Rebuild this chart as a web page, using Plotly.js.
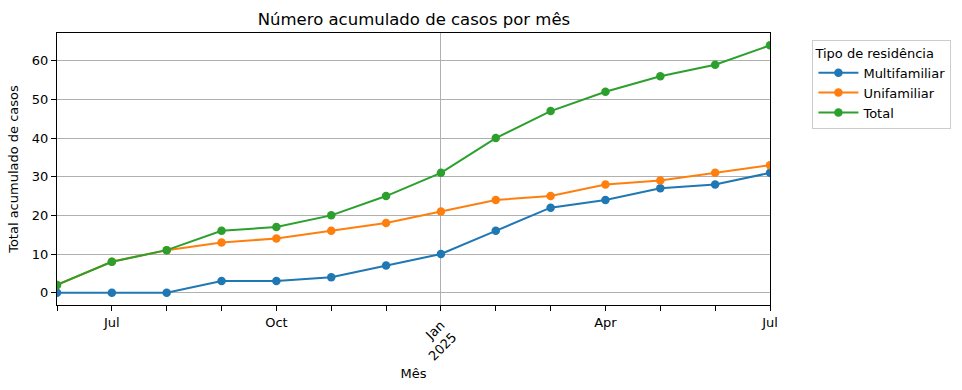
<!DOCTYPE html>
<html>
<head>
<meta charset="utf-8">
<script src="https://cdn.plot.ly/plotly-3.0.1.min.js"></script>
<style>html,body{margin:0;padding:0;background:#fff;}#chart{width:962px;height:390px;}</style>
</head>
<body>
<div id="chart"></div>
<script>
const months = ["2024-06","2024-07","2024-08","2024-09","2024-10","2024-11","2024-12","2025-01","2025-02","2025-03","2025-04","2025-05","2025-06","2025-07"];
const multifamiliar = [0,0,0,3,3,4,7,10,16,22,24,27,28,31];
const unifamiliar = [2,8,11,13,14,16,18,21,24,25,28,29,31,33];
const total = [2,8,11,16,17,20,25,31,40,47,52,56,59,64];
const tickMonths = ["2024-07","2024-10","2025-04","2025-07"];
const tickLabels = ["Jul","Oct","Apr","Jul"];
const yearMonths = ["2025-01"];
const yearLabels = ["Jan<br>2025"];

const xIdx = months.map((m,i)=>i);
const idx = m => months.indexOf(m);
const font = {family: "DejaVu Sans", size: 13, color: "#000"};

function tr(name, y, color){
  return {x: xIdx, y: y, name: name, type: "scatter", mode: "lines+markers",
    line: {color: color, width: 2}, marker: {color: color, size: 8.5}};
}
const data = [
  tr("Multifamiliar", multifamiliar, "#1f77b4"),
  tr("Unifamiliar", unifamiliar, "#ff7f0e"),
  tr("Total", total, "#2ca02c"),
  {x: yearMonths.map(idx), y: [null], xaxis: "x2", type: "scatter", mode: "markers", showlegend: false, hoverinfo: "skip"}
];
const layout = {
  width: 962, height: 390,
  margin: {l: 57, r: 191, t: 33, b: 85},
  paper_bgcolor: "#fff", plot_bgcolor: "#fff",
  font: font,
  showlegend: true,
  title: {text: "Número acumulado de casos por mês", font: {family: "DejaVu Sans", size: 16.5, color: "#000"}, x: 0.4303, xanchor: "center", y: 0.95, yanchor: "middle"},
  xaxis: {
    range: [0, months.length - 1], showgrid: false, zeroline: false,
    tickmode: "array", tickvals: tickMonths.map(idx), ticktext: tickLabels, tickangle: 0,
    ticks: "outside", ticklen: 5, tickwidth: 1, tickcolor: "#000",
    minor: {tickmode: "linear", tick0: 0, dtick: 1, ticks: "outside", ticklen: 5, tickwidth: 1, tickcolor: "#000", showgrid: false},
    showline: true, linecolor: "#000", linewidth: 1, mirror: true,
    tickfont: font,
    title: {text: "Mês", font: font, standoff: 40}
  },
  xaxis2: {
    overlaying: "x", side: "bottom", range: [0, months.length - 1],
    tickmode: "array", tickvals: yearMonths.map(idx), ticktext: yearLabels, tickangle: -45,
    showgrid: true, gridcolor: "#b0b0b0", gridwidth: 1, zeroline: false,
    ticks: "", showline: false, tickfont: font, ticklabelstandoff: 9
  },
  yaxis: {
    range: [-3.2, 67.2], tickmode: "array", tickvals: [0,10,20,30,40,50,60],
    showgrid: true, gridcolor: "#b0b0b0", gridwidth: 1, zeroline: false,
    ticks: "outside", ticklen: 5, tickwidth: 1, tickcolor: "#000",
    showline: true, linecolor: "#000", linewidth: 1, mirror: true,
    tickfont: font,
    title: {text: "Total acumulado de casos", font: font, standoff: 10}
  },
  legend: {
    x: 1.058, xanchor: "left", y: 0.975, yanchor: "top",
    bordercolor: "#cccccc", borderwidth: 1, bgcolor: "#fff",
    font: font, itemwidth: 40,
    title: {text: "Tipo de residência", font: font, side: "top"},
    tracegroupgap: 0
  }
};
Plotly.newPlot("chart", data, layout, {displayModeBar: false, staticPlot: true});
</script>
</body>
</html>
